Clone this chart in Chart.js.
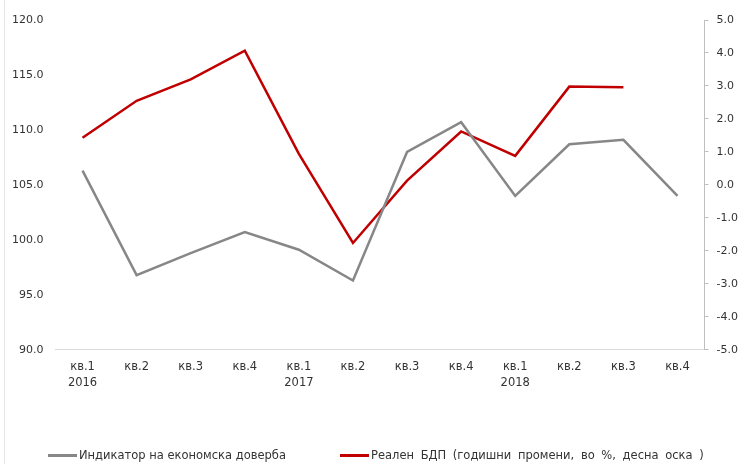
<!DOCTYPE html>
<html>
<head>
<meta charset="utf-8">
<script src="https://cdn.jsdelivr.net/npm/chart.js@4/dist/chart.umd.min.js"></script>
<style>
  html, body { margin: 0; padding: 0; background: #fff; }
  #wrap { position: relative; width: 742px; height: 464px; }
  .legenda { position: absolute; top: 448px; display: flex; align-items: center;
    font: 11.5px Verdana, "DejaVu Sans", sans-serif; color: #333; white-space: nowrap; }
  .legenda i { display: inline-block; width: 29px; height: 3px; margin-right: 2px; }
  #leg1 { left: 48px; }
  #leg2 { left: 340px; word-spacing: 3px; }
</style>
</head>
<body>
<div id="wrap">
  <canvas id="chart" width="742" height="464"></canvas>
  <div id="leg1" class="legenda"></div>
  <div id="leg2" class="legenda"></div>
</div>
<script>
/* global Chart */

const kvartali = [
  ['кв.1', '2016'], 'кв.2', 'кв.3', 'кв.4',
  ['кв.1', '2017'], 'кв.2', 'кв.3', 'кв.4',
  ['кв.1', '2018'], 'кв.2', 'кв.3', 'кв.4'
]

// индикатор на економска доверба (лева оска)
const doverba = [106.3, 96.8, 98.8, 100.7, 99.1, 96.3, 108.0, 110.7, 104.0, 108.7, 109.1, 104.0]

// реален БДП, годишни промени во % (десна оска)
const bdp = [1.43, 2.55, 3.2, 4.07, 0.94, -1.76, 0.13, 1.62, 0.88, 2.98, 2.96, null]

const serii = ['Индикатор на економска доверба', 'Реален БДП (годишни промени, во %, десна оска )']
const boi = ['#878787', '#c00000']

Chart.defaults.font.family = 'Verdana, "DejaVu Sans", sans-serif'
Chart.defaults.font.size = 11
Chart.defaults.color = '#333'

// тенка линија лево, дел од рамката
const ramka = {
  id: 'ramka',
  beforeDraw (chart) {
    const ctx = chart.ctx
    ctx.save()
    ctx.strokeStyle = '#e4e4e4'
    ctx.lineWidth = 1
    ctx.beginPath()
    ctx.moveTo(4.5, 0)
    ctx.lineTo(4.5, chart.height)
    ctx.stroke()
    ctx.restore()
  }
}

const ctx = document.getElementById('chart').getContext('2d')

const chart = new Chart(ctx, {
  type: 'line',
  data: {
    labels: kvartali,
    datasets: [
      {
        label: serii[0],
        data: doverba,
        borderColor: boi[0],
        backgroundColor: boi[0],
        borderWidth: 2.5,
        pointRadius: 0,
        tension: 0,
        yAxisID: 'y'
      },
      {
        label: serii[1],
        data: bdp,
        borderColor: boi[1],
        backgroundColor: boi[1],
        borderWidth: 2.5,
        pointRadius: 0,
        tension: 0,
        yAxisID: 'y1'
      }
    ]
  },
  options: {
    responsive: false,
    animation: false,
    layout: { padding: { left: 0, right: -4, top: 20, bottom: 64 } },
    plugins: {
      tooltip: { enabled: false },
      legend: { display: false }
    },
    scales: {
      x: {
        offset: true,
        grid: { display: false, drawTicks: false },
        border: { display: true, color: '#d9d9d9', width: 1 },
        ticks: {
          maxRotation: 0,
          autoSkip: false,
          padding: 9,
          font: { size: 11.5, lineHeight: 1.4 }
        }
      },
      y: {
        position: 'left',
        min: 90,
        max: 120,
        grid: { display: false, drawTicks: false },
        border: { display: false },
        ticks: {
          stepSize: 5,
          padding: 12,
          callback: (v) => v.toFixed(1)
        }
      },
      y1: {
        position: 'right',
        min: -5,
        max: 5,
        grid: {
          display: true,
          drawOnChartArea: false,
          drawTicks: true,
          tickLength: 4,
          color: '#bfbfbf'
        },
        border: { display: true, color: '#bfbfbf', width: 1 },
        ticks: {
          stepSize: 1,
          padding: 8,
          callback: (v) => v.toFixed(1)
        }
      }
    }
  },
  plugins: [ramka]
})

// легенда под графиконот, од сериите на графиконот
chart.data.datasets.forEach((ds, i) => {
  const el = document.getElementById(`leg${i + 1}`)
  el.innerHTML = `<i style="background:${ds.borderColor}"></i><span>${ds.label}</span>`
})
</script>
</body>
</html>
